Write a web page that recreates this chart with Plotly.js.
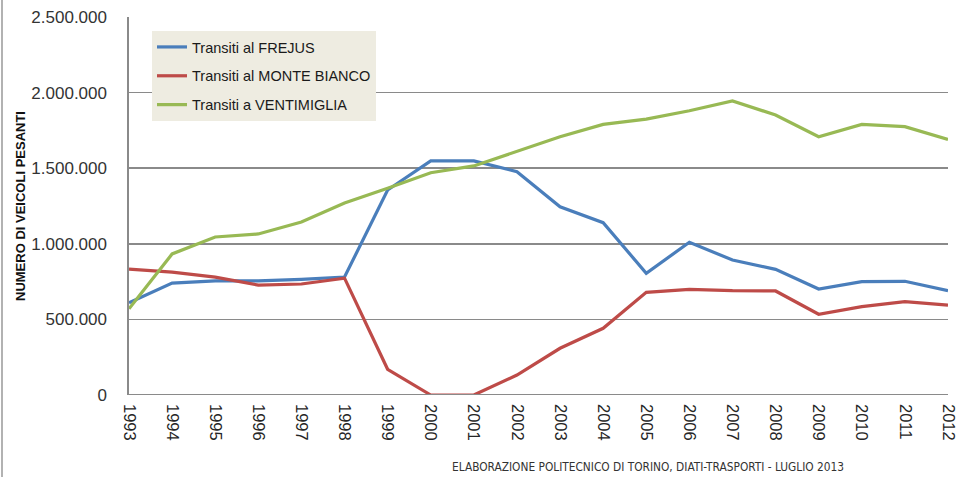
<!DOCTYPE html>
<html>
<head>
<meta charset="utf-8">
<script src="https://cdn.plot.ly/plotly-3.0.1.min.js"></script>
<style>html,body{margin:0;padding:0;background:#fff;}#chart{width:960px;height:477px;}</style>
</head>
<body>
<div id="chart"></div>
<script>
const years = [1993,1994,1995,1996,1997,1998,1999,2000,2001,2002,2003,2004,2005,2006,2007,2008,2009,2010,2011,2012];
const yearLabels = years.map(String);
const frejus = [610000,740000,755000,755000,765000,780000,1356000,1548000,1548000,1477000,1245000,1140000,805000,1010000,893000,831000,701000,750000,752000,690000];
const monteBianco = [833000,813000,780000,727000,734000,773000,170000,0,0,132000,309000,441000,679000,699000,690000,688000,534000,584000,617000,595000];
const ventimiglia = [570000,933000,1045000,1065000,1144000,1270000,1367000,1470000,1515000,1609000,1708000,1790000,1825000,1880000,1945000,1852000,1708000,1790000,1775000,1690000];
const seriesNames = ['Transiti al FREJUS','Transiti al MONTE BIANCO','Transiti a VENTIMIGLIA'];
const yTicks = [0,500000,1000000,1500000,2000000,2500000];

const colors = ['#4A7EBB','#BE4B48','#98B954'];
const data = [frejus, monteBianco, ventimiglia].map((v,i)=>({
  x: years, y: v, type:'scatter', mode:'lines', name: seriesNames[i],
  legendgroup:'g'+i,
  line:{color:colors[i], width:3.2}
}));

const W=960, L=129, R=12;
const pw = W-L-R;
const layout = {
  width:960, height:477,
  margin:{l:L, r:R, t:17, b:82},
  paper_bgcolor:'#fff', plot_bgcolor:'#fff',
  separators:',.',
  showlegend:true,
  legend:{x:(152-L)/pw, y:1-(31-17)/378, xanchor:'left', yanchor:'top',
    bgcolor:'#EEECE1', borderwidth:0, traceorder:'grouped',
    font:{family:'Liberation Sans, Arial, sans-serif', size:14.5, color:'#1a1a1a'},
    tracegroupgap:7, itemwidth:30},
  xaxis:{type:'linear', range:[1993,2012], tickvals:years, ticktext:yearLabels,
    tickangle:90, showgrid:false, zeroline:false, showline:false,
    tickfont:{family:'Liberation Sans, Arial, sans-serif', size:16.5, color:'#262626'},
    ticks:'', ticklabelstandoff:8},
  yaxis:{range:[0,2500000], tickvals:yTicks, tickformat:',d',
    showgrid:true, gridcolor:'#8a8a8a', gridwidth:1.6, zeroline:false,
    showline:true, linecolor:'#8a8a8a', linewidth:1.6,
    tickfont:{family:'Liberation Sans, Arial, sans-serif', size:17, color:'#333'},
    ticks:'', ticklabelstandoff:17,
    title:{text:'NUMERO DI VEICOLI PESANTI', standoff:3,
      font:{family:'Liberation Sans, Arial, sans-serif', size:13, color:'#111', weight:'bold'}}},
  annotations:[{xref:'paper', yref:'paper', x:(450-L)/pw, y:-(467-395)/378, xanchor:'left', yanchor:'middle',
    text:'ELABORAZIONE POLITECNICO DI TORINO, DIATI-TRASPORTI - LUGLIO 2013', showarrow:false,
    font:{family:'Liberation Sans Narrow, DejaVu Sans Condensed, Arial, sans-serif', size:11.8, color:'#333'}}],
  shapes:[
    {type:'line', xref:'paper', yref:'paper', x0:(2-L)/pw, x1:(2-L)/pw, y0:-82/378, y1:1+17/378, line:{color:'#999', width:1.5}},
    {type:'line', xref:'paper', yref:'y', x0:0, x1:1, y0:0, y1:0, line:{color:'#8a8a8a', width:2}}
  ]
};
Plotly.newPlot('chart', data, layout, {displayModeBar:false, staticPlot:true});
</script>
</body>
</html>
